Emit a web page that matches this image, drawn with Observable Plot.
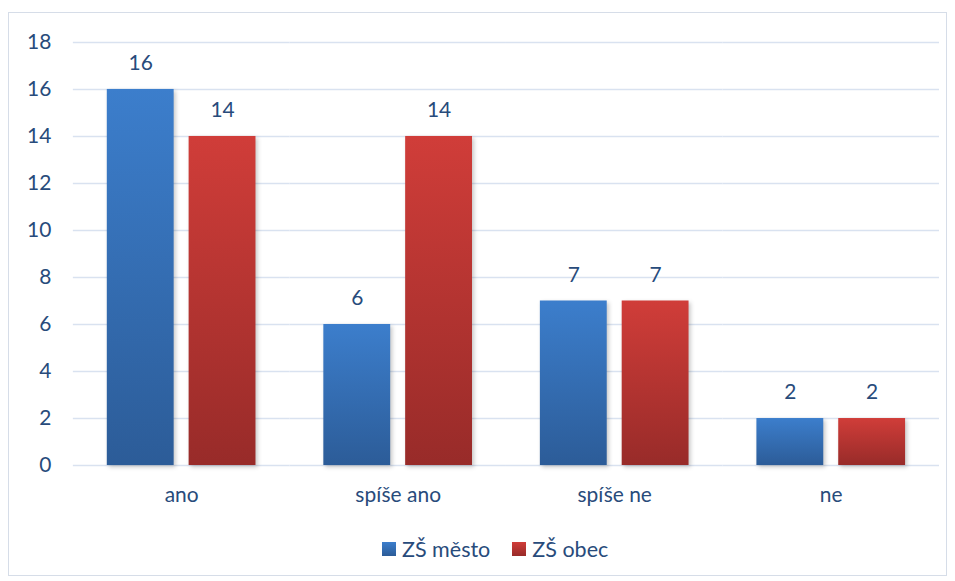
<!DOCTYPE html>
<html>
<head>
<meta charset="utf-8">
<script src="https://cdn.jsdelivr.net/npm/d3@7"></script>
<script src="https://cdn.jsdelivr.net/npm/@observablehq/plot@0.6"></script>
<style>
  body { margin: 0; background: #fff; font-family: Lato, "Open Sans", sans-serif; }
  #frame { position: absolute; left: 8px; top: 12px; width: 937px; height: 562px; border: 1px solid #D6DDE8; }
  #chart { position: absolute; left: 0; top: 0; }
  #legend { position: absolute; left: 373px; top: 523px; display: flex; align-items: center; font-size: 21.5px; color: #284B7B; }
  .sw { width: 14px; height: 14px; display: inline-block; margin-right: 6px; }
  .item { display: flex; align-items: center; margin-right: 22px; }
  svg .bars rect { filter: drop-shadow(2px 2px 2px rgba(0,0,0,0.22)); }
</style>
</head>
<body>
<div id="frame">
  <div id="chart"></div>
  <div id="legend"></div>
</div>
<script>
const categories = ["ano", "spíše ano", "spíše ne", "ne"];
const seriesNames = ["ZŠ město", "ZŠ obec"];
const mesto = [16, 6, 7, 2];
const obec = [14, 14, 7, 2];
const yTicks = [0, 2, 4, 6, 8, 10, 12, 14, 16, 18];

const data = categories.flatMap((c, i) => [
  {cat: c, series: seriesNames[0], value: mesto[i]},
  {cat: c, series: seriesNames[1], value: obec[i]}
]);

const textColor = "#284B7B";
const fs = 21;

const chart = Plot.plot({
  width: 939,
  height: 510,
  marginLeft: 64,
  marginRight: 7,
  marginTop: 29,
  marginBottom: 57,
  style: {fontFamily: "Lato, 'Open Sans', sans-serif", fontSize: fs + "px", color: textColor, background: "transparent"},
  fx: {domain: categories, padding: 0, label: null},
  x: {domain: seriesNames, paddingInner: 0.18, paddingOuter: 0.4, axis: null},
  y: {domain: [0, 18], label: null},
  color: {domain: seriesNames, range: ["url(#gB)", "url(#gR)"]},
  marks: [
    Plot.gridY(yTicks, {stroke: "#D9E2F0", strokeOpacity: 1, strokeWidth: 1.5}),
    Plot.axisY(yTicks, {tickSize: 0, tickPadding: 22, label: null, fontSize: fs}),
    Plot.axisFx({anchor: "bottom", tickSize: 0, tickPadding: 22, label: null, fontSize: fs}),
    Plot.barY(data, {fx: "cat", x: "series", y: "value", fill: "series", className: "bars"}),
    Plot.text(data, {fx: "cat", x: "series", y: "value", text: d => String(d.value), dy: -26, fill: textColor, fontSize: fs})
  ]
});

chart.insertAdjacentHTML("afterbegin", `<defs>
  <linearGradient id="gB" x1="0" y1="0" x2="0" y2="1">
    <stop offset="0" stop-color="#3C7ECC"/><stop offset="1" stop-color="#2C5C98"/>
  </linearGradient>
  <linearGradient id="gR" x1="0" y1="0" x2="0" y2="1">
    <stop offset="0" stop-color="#D03D39"/><stop offset="1" stop-color="#982B29"/>
  </linearGradient>
</defs>`);
document.getElementById("chart").appendChild(chart);

const legend = document.getElementById("legend");
const swatchBg = ["linear-gradient(#3C7ECC,#2C5C98)", "linear-gradient(#D03D39,#982B29)"];
seriesNames.forEach((s, i) => {
  const item = document.createElement("div");
  item.className = "item";
  item.innerHTML = `<span class="sw" style="background:${swatchBg[i]}"></span><span>${s}</span>`;
  legend.appendChild(item);
});
</script>
</body>
</html>
